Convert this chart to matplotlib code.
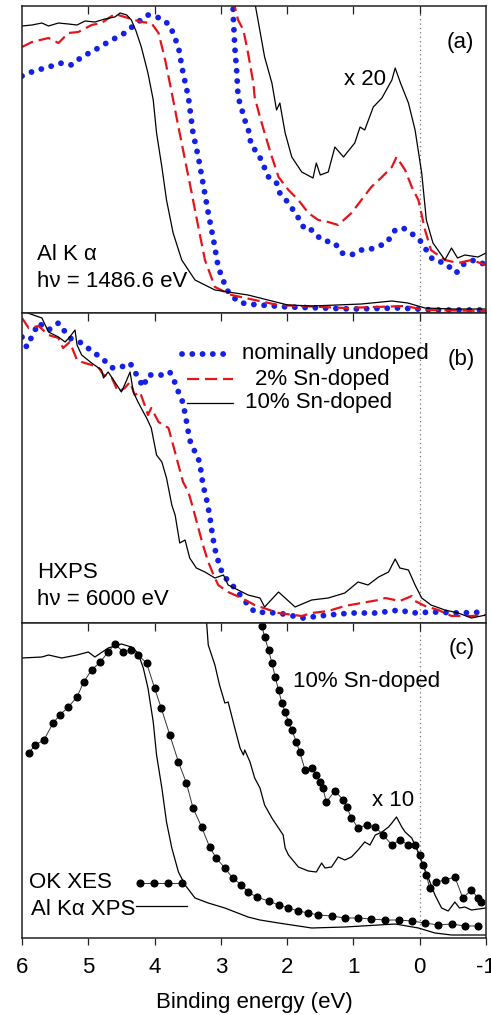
"""
Valence band spectra of In2O3 samples: Al Ka XPS, HXPS and O K XES comparison.
Writes out.png (491 x 1015 px).
"""

import matplotlib.pyplot as plt

plt.rcParams["font.family"] = ["Liberation Sans", "DejaVu Sans"]

# Panel (a): Al K alpha XPS --------------------------------------------------
a_E_0 = [6.0, 5.82, 5.65, 5.4, 5.25, 5.1, 4.9, 4.7, 4.45, 4.25, 4.1, 3.92, 3.77, 3.64,
         3.57, 3.49, 3.42, 3.34, 3.27, 3.19, 3.11, 3.04, 2.91, 2.74, 2.6, 2.0, 1.0, 0.3,
         -0.2, -1.0]
a_I_0 = [237, 242, 245, 250, 248, 256, 263, 271, 280, 291, 298, 295, 288, 266,
         240, 216, 180, 156, 130, 100, 73, 46, 23, 11, 9, 6, 4, 5,
         3, 3]
a_E_2 = [6.0, 5.85, 5.6, 5.45, 5.3, 5.15, 4.95, 4.8, 4.6, 4.45, 4.2, 4.05, 3.94, 3.84,
         3.74, 3.64, 3.54, 3.44, 3.34, 3.24, 3.09, 2.84, 2.49, 2.14, 1.13, 0.22, -0.08,
         -1.0]
a_I_2 = [266, 271, 275, 270, 280, 281, 288, 290, 299, 296, 291, 290, 280, 253,
         220, 186, 153, 120, 86, 53, 26, 18, 13, 8, 5, 7, 3,
         2]
a_E_10 = [6.0, 5.85, 5.7, 5.6, 5.45, 5.3, 5.17, 5.05, 4.9, 4.75, 4.6, 4.52, 4.42, 4.35,
          4.28, 4.2, 4.1, 4.02, 3.97, 3.89, 3.82, 3.72, 3.59, 3.39, 3.09, 2.59, 1.99,
          1.63, 0.88, 0.42, 0.18, -0.08, -0.5, -1.0]
a_I_10 = [287, 288, 290, 287, 290, 289, 288, 292, 291, 294, 296, 300, 298, 293,
          282, 266, 240, 213, 180, 146, 113, 80, 53, 33, 23, 18, 8,
          7, 9, 12, 10, 5, 4, 4]

# x20 magnified curves in panel (a)
a20_E_0 = [2.82, 2.81, 2.79, 2.76, 2.74, 2.69, 2.64, 2.59, 2.54, 2.44, 2.28, 2.16, 2.11,
           1.98, 1.88, 1.81, 1.73, 1.63, 1.48, 1.28, 1.18, 1.03, 0.9, 0.78, 0.65, 0.5,
           0.37, 0.25, 0.15, 0.0, -0.1, -0.2, -0.38, -0.55, -0.68, -0.83, -1.0]
a20_I_0 = [315, 293, 266, 241, 216, 205, 193, 185, 167, 160, 136, 130, 120,
           110, 100, 93, 83, 83, 73, 70, 60, 58, 63, 63, 66, 70,
           83, 85, 81, 73, 63, 53, 50, 40, 50, 53, 48]
a20_E_2 = [2.82, 2.74, 2.66, 2.59, 2.51, 2.49, 2.41, 2.34, 2.23, 2.13, 1.98, 1.83, 1.68,
           1.53, 1.38, 1.23, 1.03, 0.88, 0.73, 0.57, 0.42, 0.35, 0.22, 0.12, 0.02, -0.08,
           -0.17, -0.38, -0.58, -0.78, -1.0]
a20_I_2 = [315, 293, 283, 260, 230, 216, 196, 180, 156, 136, 123, 113, 100,
           93, 91, 88, 100, 113, 126, 136, 146, 156, 143, 126, 113, 83,
           63, 53, 50, 53, 48]
a20_E_10 = [2.5, 2.44, 2.34, 2.23, 2.16, 2.11, 2.03, 1.93, 1.78, 1.61, 1.56, 1.5, 1.38,
            1.28, 1.15, 0.98, 0.9, 0.83, 0.7, 0.57, 0.42, 0.37, 0.29, 0.17, 0.07, -0.03,
            -0.1, -0.2, -0.38, -0.48, -0.57, -0.68, -0.88, -1.0]
a20_I_10 = [315, 293, 256, 230, 203, 210, 180, 156, 141, 135, 150, 138, 141,
            166, 156, 170, 186, 183, 206, 215, 233, 245, 230, 210, 183, 140,
            93, 70, 53, 65, 55, 58, 56, 60]

# Panel (b): HXPS ------------------------------------------------------------
b_E_0 = [6.0, 5.93, 5.75, 5.6, 5.45, 5.28, 5.1, 4.95, 4.8, 4.63, 4.5, 4.37, 4.27, 4.17,
         4.1, 4.0, 3.87, 3.77, 3.69, 3.64, 3.57, 3.52, 3.47, 3.39, 3.32, 3.27, 3.22,
         3.17, 3.12, 3.07, 3.02, 2.97, 2.79, 2.64, 2.49, 2.13, 1.76, 1.38, 1.03, 0.67,
         0.3, 0.12, -0.2, -0.6, -1.0]
b_I_0 = [286, 276, 300, 293, 300, 285, 280, 272, 265, 255, 256, 260, 248, 236,
         248, 248, 248, 251, 240, 231, 220, 202, 183, 171, 161, 138, 125,
         108, 85, 68, 58, 48, 35, 22, 11, 10, 5, 8, 10, 10,
         13, 10, 11, 10, 11]
b_E_2 = [6.0, 5.9, 5.75, 5.6, 5.45, 5.38, 5.28, 5.17, 5.1, 4.95, 4.85, 4.77, 4.65, 4.55,
         4.45, 4.37, 4.3, 4.22, 4.15, 4.1, 4.05, 3.94, 3.79, 3.72, 3.64, 3.57, 3.49,
         3.42, 3.34, 3.27, 3.19, 3.11, 3.04, 2.89, 2.69, 2.49, 2.13, 1.78, 1.63, 1.38,
         1.13, 0.88, 0.62, 0.52, 0.3, 0.12, 0.07, -0.08, -0.28, -0.48, -0.78, -1.0]
b_I_2 = [305, 295, 297, 288, 285, 275, 281, 263, 261, 258, 256, 248, 246, 231,
         235, 241, 228, 231, 218, 208, 215, 201, 195, 178, 158, 141, 131,
         115, 95, 78, 61, 48, 38, 31, 25, 18, 10, 7, 10, 12,
         17, 20, 23, 25, 22, 27, 22, 17, 13, 7, 7, 8]
b_E_10 = [6.0, 5.7, 5.6, 5.45, 5.35, 5.28, 5.2, 5.17, 5.1, 4.95, 4.8, 4.77, 4.7, 4.6,
          4.5, 4.42, 4.37, 4.32, 4.25, 4.17, 4.12, 4.05, 3.97, 3.89, 3.82, 3.74, 3.69,
          3.62, 3.54, 3.47, 3.37, 3.24, 3.09, 2.96, 2.89, 2.74, 2.59, 2.41, 2.34, 2.13,
          1.88, 1.63, 1.38, 1.13, 0.93, 0.78, 0.62, 0.47, 0.37, 0.3, 0.17, 0.07, -0.03,
          -0.17, -0.38, -0.58, -0.78, -1.0]
b_I_10 = [312, 305, 291, 286, 281, 286, 293, 278, 268, 260, 253, 245, 251, 241,
          231, 243, 251, 231, 221, 211, 205, 195, 168, 161, 145, 118, 108,
          80, 83, 65, 55, 51, 45, 48, 38, 33, 28, 25, 16, 31,
          16, 23, 25, 30, 41, 38, 46, 51, 64, 55, 53, 38, 25,
          18, 13, 10, 5, 8]

# Panel (c): XPS vs O K XES, 10% Sn-doped -------------------------------------
c_E_xps = [6.0, 5.7, 5.6, 5.4, 5.17, 5.0, 4.9, 4.7, 4.5, 4.35, 4.25, 4.17, 4.1, 4.02,
           3.97, 3.89, 3.82, 3.74, 3.64, 3.54, 3.39, 3.19, 2.94, 2.59, 2.41, 2.13, 1.63,
           1.13, 0.62, 0.37, 0.02, -0.23, -0.48, -1.0]
c_I_xps = [280, 281, 283, 280, 283, 286, 281, 290, 294, 291, 285, 270, 250, 216,
           183, 150, 116, 90, 66, 53, 40, 35, 30, 21, 18, 15, 10,
           11, 13, 14, 10, 5, 3, 3]
c_E_xes = [5.9, 5.8, 5.67, 5.53, 5.43, 5.3, 5.17, 5.07, 4.95, 4.82, 4.7, 4.6, 4.47, 4.35,
           4.25, 4.12, 4.0, 3.9, 3.77, 3.64, 3.52, 3.42, 3.29, 3.17, 3.07, 2.94, 2.82,
           2.69, 2.59, 2.46, 2.28, 2.13, 1.98, 1.83, 1.68, 1.53, 1.33, 1.13, 0.93, 0.73,
           0.52, 0.32, 0.12, -0.08, -0.28, -0.48, -0.68, -0.88]
c_I_xes = [185, 193, 198, 215, 223, 231, 241, 256, 268, 276, 286, 294, 286, 288,
           283, 275, 250, 230, 203, 176, 155, 130, 111, 91, 80, 70, 60,
           53, 46, 41, 37, 33, 30, 27, 25, 23, 22, 20, 20, 19,
           18, 18, 17, 15, 13, 14, 12, 12]
c10_E_xps = [3.22, 3.19, 3.09, 3.02, 2.94, 2.89, 2.84, 2.79, 2.71, 2.66, 2.64, 2.56, 2.49,
             2.41, 2.34, 2.23, 2.13, 2.06, 2.03, 1.98, 1.83, 1.68, 1.56, 1.48, 1.43, 1.33,
             1.23, 1.13, 1.03, 0.93, 0.83, 0.75, 0.67, 0.57, 0.47, 0.42, 0.35, 0.27, 0.22,
             0.12, 0.05, -0.03, -0.13, -0.23, -0.33, -0.43, -0.53, -0.6, -0.68, -0.78, -1.0]
c10_I_xps = [320, 293, 273, 253, 235, 236, 223, 210, 190, 183, 188, 176, 160,
             150, 133, 120, 110, 103, 90, 83, 71, 67, 66, 75, 70, 71,
             81, 78, 81, 88, 96, 93, 103, 106, 111, 115, 121, 111, 106,
             100, 90, 76, 60, 43, 30, 27, 36, 30, 31, 28, 30]
c10_E_xes = [2.38, 2.34, 2.28, 2.23, 2.18, 2.13, 2.08, 2.03, 1.98, 1.93, 1.86, 1.81, 1.73,
             1.63, 1.56, 1.5, 1.46, 1.41, 1.28, 1.15, 1.1, 1.03, 0.93, 0.8, 0.67, 0.55,
             0.42, 0.3, 0.17, 0.07, 0.0, -0.05, -0.1, -0.15, -0.25, -0.38, -0.53, -0.65,
             -0.78, -0.88, -0.93]
c10_I_xes = [312, 301, 288, 275, 261, 248, 235, 226, 216, 208, 196, 186, 168,
             170, 163, 156, 150, 136, 147, 138, 131, 120, 110, 113, 111, 103,
             93, 98, 93, 93, 83, 73, 63, 50, 56, 58, 61, 40,
             48, 40, 36]

BLUE = "#1420e6"
RED = "#e3151b"
FRAME = "#222222"
FS = 16

W, H = 491, 1015
fig = plt.figure(figsize=(W / 100, H / 100), dpi=100)
fig.patch.set_facecolor("white")

# panel boxes in pixel coordinates (left, top, right, bottom)
boxes = [(22, 6, 486, 313), (22, 313, 486, 623), (22, 623, 486, 938)]
axes = []
for (l, t, r, b) in boxes:
    ax = fig.add_axes([l / W, (H - b) / H, (r - l) / W, (b - t) / H])
    ax.set_xlim(6, -1)
    ax.set_ylim(0, b - t)
    ax.set_yticks([])
    ax.set_xticks([6, 5, 4, 3, 2, 1, 0, -1])
    for s in ax.spines.values():
        s.set_linewidth(1.1)
        s.set_color(FRAME)
    ax.axvline(0, color="#777777", lw=0.9, ls=(0, (1, 2.5)), zorder=0)
    axes.append(ax)

dot_kw = dict(color=BLUE, lw=4.2, ls=(0, (0.01, 1.75)), dash_capstyle="round")
dash_kw = dict(color=RED, lw=1.6, ls=(0, (5.5, 2.6)))
solid_kw = dict(color="black", lw=0.9)

# (a) ------------------------------------------------------------------------
ax = axes[0]
ax.plot(a_E_0, a_I_0, **dot_kw)
ax.plot(a20_E_0, a20_I_0, **dot_kw)
ax.plot(a_E_2, a_I_2, **dash_kw)
ax.plot(a20_E_2, a20_I_2, **dash_kw)
ax.plot(a_E_10, a_I_10, **solid_kw)
ax.plot(a20_E_10, a20_I_10, **solid_kw)
ax.text(0.032, 0.173, "Al K α", transform=ax.transAxes, fontsize=FS, va="baseline")
ax.text(0.032, 0.085, "hν = 1486.6 eV", transform=ax.transAxes, fontsize=FS,
        va="baseline")
ax.text(0.975, 0.88, "(a)", transform=ax.transAxes, fontsize=FS, ha="right",
        va="center")
ax.text(0.693, 0.76, "x 20", transform=ax.transAxes, fontsize=FS, ha="left",
        va="center")

# (b) ------------------------------------------------------------------------
ax = axes[1]
ax.plot(b_E_0, b_I_0, **dot_kw)
ax.plot(b_E_2, b_I_2, **dash_kw)
ax.plot(b_E_10, b_I_10, **solid_kw)
ax.text(0.032, 0.145, "HXPS", transform=ax.transAxes, fontsize=FS, va="baseline")
ax.text(0.032, 0.058, "hν = 6000 eV", transform=ax.transAxes, fontsize=FS,
        va="baseline")
ax.text(0.975, 0.85, "(b)", transform=ax.transAxes, fontsize=FS, ha="right",
        va="center")
# hand-made legend
leg_rows = [(0.868, "nominally undoped", dot_kw, 0.475, 0.345),
            (0.787, "2% Sn-doped", dash_kw, 0.502, 0.355),
            (0.710, "10% Sn-doped", solid_kw, 0.480, 0.355)]
for yy, label, kw, x0, xs in leg_rows:
    ax.plot([xs, 0.455], [yy, yy], transform=ax.transAxes, **kw)
    ax.text(x0, yy, label, transform=ax.transAxes, fontsize=FS, ha="left",
            va="center")

# (c) ------------------------------------------------------------------------
ax = axes[2]
ax.plot(c_E_xps, c_I_xps, **solid_kw)
ax.plot(c10_E_xps, c10_I_xps, **solid_kw)
xes_kw = dict(color="#333333", lw=0.7, marker="o", ms=4.8, mfc="black",
              mec="black")
ax.plot(c_E_xes, c_I_xes, **xes_kw)
ax.plot(c10_E_xes, c10_I_xes, **xes_kw)
ax.text(0.975, 0.92, "(c)", transform=ax.transAxes, fontsize=FS, ha="right",
        va="center")
ax.text(0.585, 0.815, "10% Sn-doped", transform=ax.transAxes, fontsize=FS,
        ha="left", va="center")
ax.text(0.755, 0.435, "x 10", transform=ax.transAxes, fontsize=FS, ha="left",
        va="center")
ax.text(0.016, 0.175, "OK XES", transform=ax.transAxes, fontsize=FS, va="center")
ax.plot([0.255, 0.285, 0.315, 0.345], [0.175] * 4, transform=ax.transAxes, **xes_kw)
ax.text(0.02, 0.09, "Al Kα XPS", transform=ax.transAxes, fontsize=FS,
        va="center")
ax.plot([0.245, 0.355], [0.102, 0.102], transform=ax.transAxes, **solid_kw)

# ticks: inward on top of every panel, outward with labels under (c)
for i, ax in enumerate(axes):
    ax.tick_params(axis="x", which="both", top=False, bottom=False,
                   labeltop=False, labelbottom=False)
    top = ax.secondary_xaxis("top")
    top.set_xticks([5, 4, 3, 2, 1, 0])
    top.tick_params(direction="in", length=6, width=0.9, color=FRAME,
                    labeltop=False)
    top.spines["top"].set_visible(False)

axc = axes[2]
axc.tick_params(axis="x", bottom=True, labelbottom=True, direction="out",
                length=5, width=0.9, color=FRAME, labelsize=FS, pad=9)
axc.set_xticklabels(["6", "5", "4", "3", "2", "1", "0", "-1"])
axc.set_xlabel("Binding energy (eV)", fontsize=FS, labelpad=10)

fig.savefig("out.png", dpi=100, facecolor="white")
